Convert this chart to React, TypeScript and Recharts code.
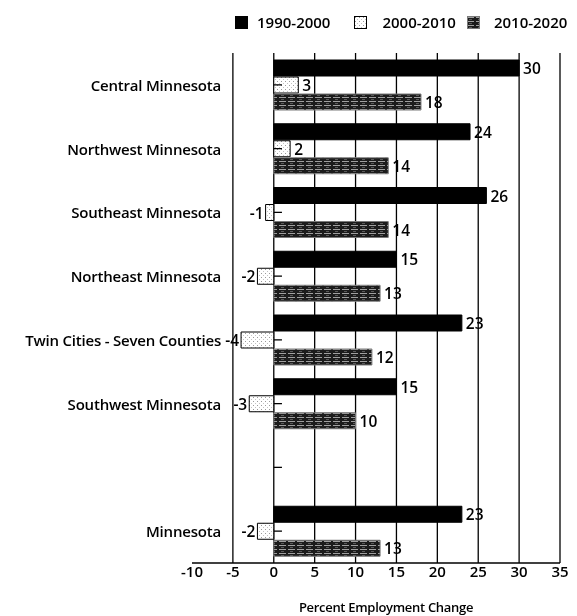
import React from 'react';
import { BarChart, Bar, XAxis, YAxis, CartesianGrid, Legend, LabelList, ReferenceLine } from 'recharts';

const regions = [
  'Central Minnesota',
  'Northwest Minnesota',
  'Southeast Minnesota',
  'Northeast Minnesota',
  'Twin Cities - Seven Counties',
  'Southwest Minnesota',
  ' ',
  'Minnesota',
];
const change1990 = [30, 24, 26, 15, 23, 15, null, 23];
const change2000 = [3, 2, -1, -2, -4, -3, null, -2];
const change2010 = [18, 14, 14, 13, 12, 10, null, 13];
const seriesNames = ['1990-2000', '2000-2010', '2010-2020'];
const xTicks = [-10, -5, 0, 5, 10, 15, 20, 25, 30, 35];
const gridValues = [-5, 0, 5, 10, 15, 20, 25, 30, 35];

const data = regions.map((region, i) => ({
  region,
  a: change1990[i],
  b: change2000[i],
  c: change2010[i],
}));

const FONT = "'Open Sans', sans-serif";
const fills = ['#000', 'url(#dotsPat)', 'url(#streakPat)'];
const strokes = ['#000', '#000', '#7a7a7a'];

const ValueLabel = (props: any) => {
  const { x, y, width, height, value } = props;
  if (value === null || value === undefined) return null;
  const left = Math.min(x, x + width);
  const right = Math.max(x, x + width);
  const cy = y + height / 2;
  const neg = value < 0;
  return (
    <text
      x={neg ? left - 2 : right + 4}
      y={cy}
      textAnchor={neg ? 'end' : 'start'}
      dominantBaseline="central"
      fontFamily={FONT}
      fontSize={15.5}
      fontWeight={600}
      fill="#000"
    >
      {value}
    </text>
  );
};

const RegionTick = (props: any) => {
  const { x, y, payload } = props;
  return (
    <text
      x={x + 29}
      y={y}
      textAnchor="end"
      dominantBaseline="central"
      fontFamily={FONT}
      fontSize={15}
      fontWeight={600}
      letterSpacing={-0.2}
      fill="#000"
    >
      {payload.value}
    </text>
  );
};

const squareGap = [9, 15, 14];
const itemGap = [24, 11, 0];

const LegendContent = () => (
  <div
    style={{
      height: 45,
      boxSizing: 'border-box',
      paddingTop: 7,
      paddingLeft: 235,
      display: 'flex',
      alignItems: 'flex-start',
      fontFamily: FONT,
      fontSize: 15,
      fontWeight: 600,
      color: '#000',
    }}
  >
    {seriesNames.map((name, i) => (
      <div key={name} style={{ display: 'flex', alignItems: 'center', marginRight: itemGap[i], height: 15 }}>
        <svg width={13} height={13} style={{ marginRight: squareGap[i], display: 'block' }}>
          <rect x={0.5} y={0.5} width={12} height={12} fill={fills[i]} stroke={strokes[i]} />
        </svg>
        <span style={{ lineHeight: '15px', whiteSpace: 'nowrap' }}>{name}</span>
      </div>
    ))}
  </div>
);

export default function App() {
  return (
    <div style={{ position: 'fixed', left: 0, top: 0 }}>
      <BarChart
        width={577}
        height={616}
        data={data}
        layout="vertical"
        margin={{ top: 8, right: 17, bottom: 0, left: 0 }}
        barSize={16}
        barGap={1}
      >
        <defs>
          <pattern id="dotsPat" width="4" height="4" patternUnits="userSpaceOnUse">
            <rect width="4" height="4" fill="#fff" />
            <rect x="1" y="1" width="1" height="1" fill="#9a9a9a" />
            <rect x="3" y="3" width="1" height="1" fill="#c4c4c4" />
          </pattern>
          <pattern id="streakPat" width="9" height="4" patternUnits="userSpaceOnUse">
            <rect width="9" height="4" fill="#1c1c1c" />
            <rect x="0" y="1" width="7" height="1" fill="#a0a0a0" />
            <rect x="2" y="3" width="3" height="1" fill="#5a5a5a" />
          </pattern>
        </defs>
        <Legend verticalAlign="top" align="left" content={() => <LegendContent />} />
        <CartesianGrid horizontal={false} verticalValues={gridValues} stroke="#000" strokeWidth={1.3} />
        <XAxis
          type="number"
          domain={[-10, 35]}
          ticks={xTicks}
          interval={0}
          axisLine={{ stroke: '#000', strokeWidth: 1.3 }}
          tickLine={false}
          tickSize={0}
          tickMargin={3}
          height={53}
          tick={{ fill: '#000', fontFamily: FONT, fontSize: 15, fontWeight: 600 }}
          label={{
            value: 'Percent Employment Change',
            position: 'insideBottom',
            offset: 4,
            dx: 10,
            fill: '#000',
            fontFamily: FONT,
            fontSize: 13,
            fontWeight: 600,
            letterSpacing: -0.3,
          }}
        />
        <YAxis
          type="category"
          dataKey="region"
          width={192}
          axisLine={false}
          tickLine={false}
          tickSize={0}
          tickMargin={0}
          interval={0}
          tick={<RegionTick />}
        />
        <Bar dataKey="a" name={seriesNames[0]} fill={fills[0]} stroke={strokes[0]} isAnimationActive={false}>
          <LabelList dataKey="a" content={<ValueLabel />} />
        </Bar>
        <Bar dataKey="b" name={seriesNames[1]} fill={fills[1]} stroke={strokes[1]} isAnimationActive={false}>
          <LabelList dataKey="b" content={<ValueLabel />} />
        </Bar>
        <Bar dataKey="c" name={seriesNames[2]} fill={fills[2]} stroke={strokes[2]} isAnimationActive={false}>
          <LabelList dataKey="c" content={<ValueLabel />} />
        </Bar>
        {regions.map((r) => (
          <ReferenceLine
            key={`tick-${r}`}
            segment={[{ x: 0, y: r }, { x: 1, y: r }]}
            stroke="#000"
            strokeWidth={1.3}
          />
        ))}
      </BarChart>
    </div>
  );
}
